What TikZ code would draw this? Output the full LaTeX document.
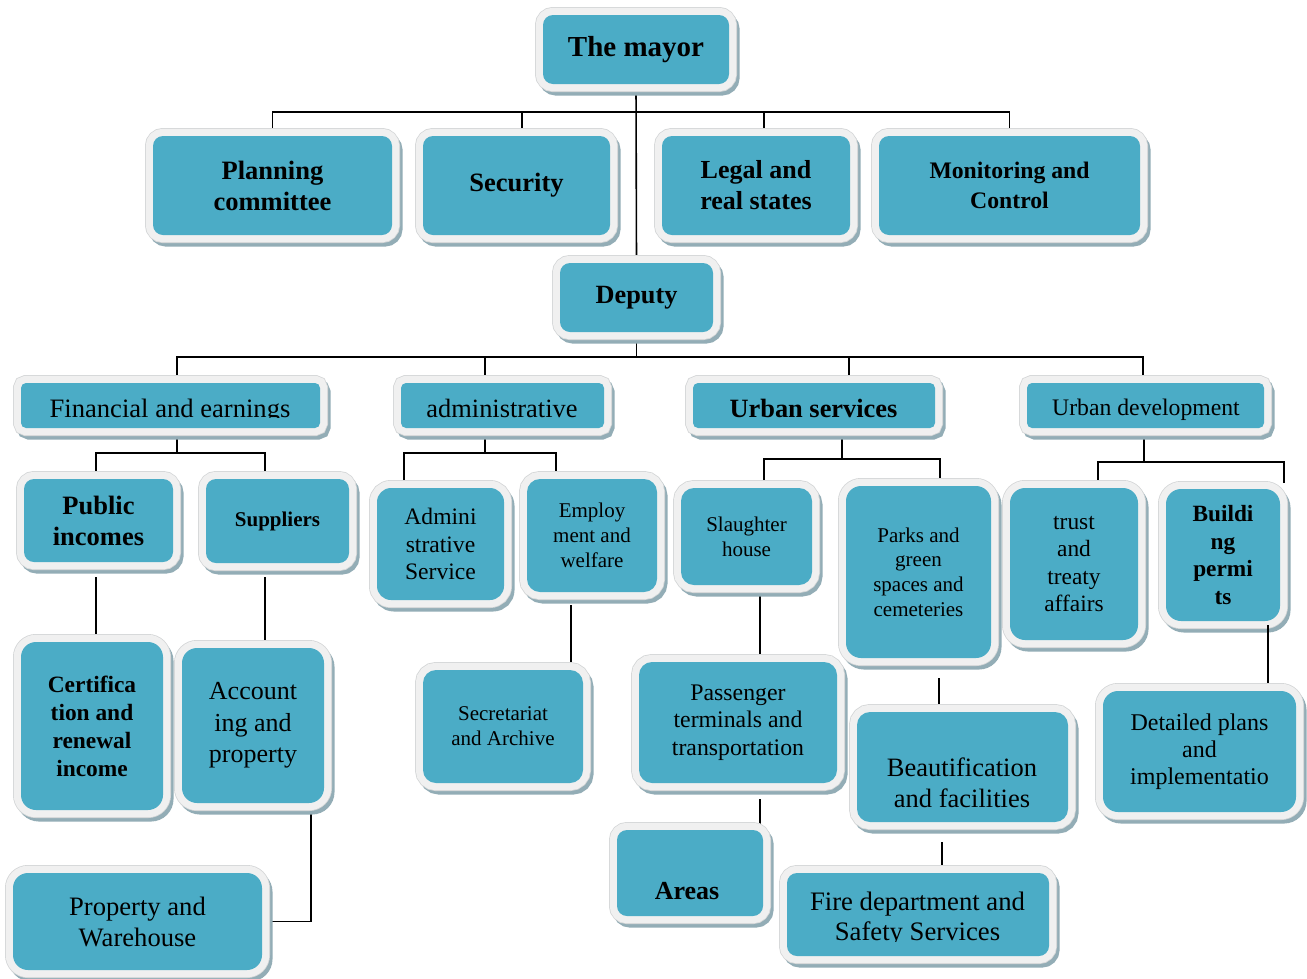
\documentclass[tikz,border=0pt]{standalone}
\usepackage{fontspec}
\setmainfont{Liberation Serif}
\usetikzlibrary{backgrounds}

\definecolor{boxfill}{HTML}{4BACC6}
\definecolor{boxframe}{HTML}{F0F0F0}
\definecolor{boxedge}{HTML}{D4D6D7}
\definecolor{boxshadow}{HTML}{93ADB6}

\newcommand\fsz[2]{\fontsize{#1}{#2}\selectfont}

\begin{document}
\begin{tikzpicture}[x=1pt,y=-1pt,
  unit/.style={rounded corners=#1, fill=boxfill, inner sep=0pt, outer sep=0pt,
    align=center, text=black,
    preaction={fill=boxshadow, draw=boxshadow, line width=15pt,
      transform canvas={shift={(3pt,-4pt)}}},
    preaction={draw=boxedge, line width=16pt},
    preaction={draw=boxframe, line width=14.4pt}},
  unit/.default=10pt,
  span/.style args={#1/#2/#3/#4}{at={({(#1+#3)/2},{(#2+#4)/2})},
    minimum width={(#3-#1)*1pt}, minimum height={(#4-#2)*1pt}},
  link/.style={draw=black, line width=1.6pt},
  txt/.style={inner sep=0pt, outer sep=0pt, align=center, text=black},
]
\useasboundingbox (0,0) rectangle (1307,978);

% ---------- top level ----------
\node[unit=10pt, span=543/15/729/84, font=\fsz{29}{34}\bfseries] (mayor) {The mayor};
\node[unit=10pt, span=153/136/392/235, font=\fsz{26.5}{31}\bfseries] (planning) {Planning\\committee};
\node[unit=10pt, span=423/136/610/235, font=\fsz{26.5}{31}\bfseries] (security) {Security};
\node[unit=10pt, span=662/136/850/235, font=\fsz{26}{31}\bfseries] (legal) {Legal and\\real states};
\node[unit=10pt, span=879/136/1140/235, font=\fsz{23.7}{30}\bfseries] (monitor) {Monitoring and\\Control};
\node[unit=10pt, span=560/263/713/332, font=\fsz{26.3}{31}\bfseries] (deputy) {Deputy};

% ---------- departments ----------
\node[unit=5pt, span=21/383/320/428] (fin) {};
\begin{scope}
  \clip (21,383) rectangle (320,417.5);
  \node[txt, font=\fsz{26.6}{31}, anchor=base] (fintext) at (170,417) {Financial and earnings};
\end{scope}
\node[unit=5pt, span=401/383/604/428] (adm) {};
\node[txt, font=\fsz{26.4}{31}, anchor=base] (admtext) at (502,417.5) {administrative};
\node[unit=5pt, span=693/383/935/428] (urbs) {};
\node[txt, font=\fsz{26.4}{31}\bfseries, anchor=base] (urbstext) at (813.5,417.5) {Urban services};
\node[unit=5pt, span=1027/383/1264/428] (urbd) {};
\node[txt, font=\fsz{23.7}{28}, anchor=base] (urbdtext) at (1146,415) {Urban development};

% ---------- financial branch ----------
\node[unit=10pt, span=24/479/173/562, font=\fsz{26.5}{31}\bfseries] (public) {Public\\incomes};
\node[unit=10pt, span=206/479/349/563, font=\fsz{21}{25}\bfseries] (supp) {Suppliers};
\node[unit=15pt, span=21/642/163/810, font=\fsz{23.4}{28}\bfseries] (cert) {Certifica\\tion and\\renewal\\income};
\node[unit=15pt, span=182/648/324/803, font=\fsz{26}{31.5}] (acct) {Account\\ing and\\property};
\node[unit=15pt, span=13/873/262/970, font=\fsz{26.6}{31}] (prop) {Property and\\Warehouse};

% ---------- administrative branch ----------
\node[unit=14pt, span=377/488/504/600, font=\fsz{23.6}{27.5}] (admserv) {Admini\\strative\\Service};
\node[unit=13pt, span=527/479/657/592, font=\fsz{21}{25}] (employ) {Employ\\ment and\\welfare};
\node[unit=13pt, span=423/670/583/783, font=\fsz{21}{25}] (secr) {Secretariat\\and Archive};

% ---------- urban services branch ----------
\node[unit=13pt, span=681/488/812/585, font=\fsz{21}{25}] (slaught) {Slaughter\\house};
\node[unit=15pt, span=846/486/991/658, font=\fsz{21}{24.7}] (parks) {Parks and\\green\\spaces and\\cemeteries};
\node[unit=13pt, span=639/662/837/783, font=\fsz{23.8}{27.5}] (pass) {Passenger\\terminals and\\transportation};
\node[unit=10pt, span=617/830/763/916] (areas) {};
\node[txt, font=\fsz{26}{31}\bfseries, anchor=base] (areastext) at (687,899) {Areas};
\node[unit=13pt, span=857/712/1068/822] (beaut) {};
\node[txt, font=\fsz{26.5}{31}] (beauttext) at (962,782.5) {Beautification\\and facilities};
\node[unit=10pt, span=787/873/1049/956] (fire) {};
\begin{scope}
  \clip (787,873) rectangle (1049,941);
  \node[txt, font=\fsz{26.7}{30}] (firetext) at (917.5,919) {Fire department and\\Safety Services};
\end{scope}

% ---------- urban development branch ----------
\node[unit=15pt, span=1010/488/1138/640, font=\fsz{23.4}{27.5}] (trust) {trust\\and\\treaty\\affairs};
\node[unit=15pt, span=1166/489/1280/621, font=\fsz{23.3}{27.7}\bfseries] (build) {Buildi\\ng\\permi\\ts};
\node[unit=15pt, span=1103/691/1296/812, font=\fsz{24}{27}] (detail) {Detailed plans\\and\\implementatio};

% ---------- connectors (behind the boxes) ----------
\begin{pgfonlayer}{background}
\fill[white] (0,0) rectangle (1307,978);
\coordinate (busA) at (0,112);
\coordinate (busB) at (0,357);
\coordinate (busC) at (0,453);
\coordinate (busD) at (0,453);
\coordinate (busE) at (0,459);
\coordinate (busF) at (0,462);

\draw[link] (mayor.south) -- (deputy.north);
\draw[link] (planning.north) -- (planning.north |- busA) -- (monitor.north |- busA) -- (monitor.north);
\draw[link] ([xshift=5.5pt]security.north) -- ([xshift=5.5pt]security.north |- busA);
\draw[link] ([xshift=8pt]legal.north) -- ([xshift=8pt]legal.north |- busA);

\draw[link] (deputy.south) -- (deputy.south |- busB);
\draw[link] ([xshift=6.5pt]fin.north) -- ([xshift=6.5pt]fin.north |- busB)
  -- ([xshift=-2.5pt]urbd.north |- busB) -- ([xshift=-2.5pt]urbd.north);
\draw[link] ([xshift=-17.5pt]adm.north) -- ([xshift=-17.5pt]adm.north |- busB);
\draw[link] ([xshift=35pt]urbs.north) -- ([xshift=35pt]urbs.north |- busB);

% financial
\draw[link] ([xshift=6.5pt]fin.south) -- ([xshift=6.5pt]fin.south |- busC);
\draw[link] ([xshift=-2.5pt]public.north) -- ([xshift=-2.5pt]public.north |- busC)
  -- ([xshift=-12.5pt]supp.north |- busC) -- ([xshift=-12.5pt]supp.north);
\draw[link, shorten <=15pt] ([xshift=-2.5pt]public.south) -- ([xshift=-2.5pt]public.south |- cert.north);
\draw[link, shorten <=14pt] ([xshift=-12.5pt]supp.south) -- ([xshift=-12.5pt]supp.south |- acct.north);
\draw[link] ([xshift=58pt]acct.south) -- ([xshift=58pt]acct.south |- prop.east) -- (prop.east);

% administrative
\draw[link] ([xshift=-17.5pt]adm.south) -- ([xshift=-17.5pt]adm.south |- busD);
\draw[link] ([xshift=-36.5pt]admserv.north) -- ([xshift=-36.5pt]admserv.north |- busD)
  -- ([xshift=-36pt]employ.north |- busD) -- ([xshift=-36pt]employ.north);
\draw[link, shorten <=13pt] ([xshift=-21pt]employ.south) -- ([xshift=-21pt]employ.south |- secr.north);

% urban services
\draw[link] ([xshift=28pt]urbs.south) -- ([xshift=28pt]urbs.south |- busE);
\draw[link] ([xshift=17.5pt]slaught.north) -- ([xshift=17.5pt]slaught.north |- busE)
  -- ([xshift=21.5pt]parks.north |- busE) -- ([xshift=21.5pt]parks.north);
\draw[link] ([xshift=13.5pt]slaught.south) -- ([xshift=13.5pt]slaught.south |- pass.north);
\draw[link, shorten <=16pt] ([xshift=22pt]pass.south) -- ([xshift=22pt]pass.south |- areas.north);
\draw[link, shorten <=20pt] ([xshift=20.5pt]parks.south) -- ([xshift=20.5pt]parks.south |- beaut.north);
\draw[link, shorten <=20pt] ([xshift=-20.5pt]beaut.south) -- ([xshift=-20.5pt]beaut.south |- fire.north);

% urban development
\draw[link] ([xshift=-1.5pt]urbd.south) -- ([xshift=-1.5pt]urbd.south |- busF);
\draw[link, shorten >=6pt] ([xshift=24pt]trust.north) -- ([xshift=24pt]trust.north |- busF)
  -- ([xshift=61pt]build.north |- busF) -- ([xshift=61pt]build.north);
\end{pgfonlayer}

\draw[link, shorten <=4pt, shorten >=8pt] ([xshift=45pt]build.south) -- ([xshift=45pt]build.south |- detail.north);
\end{tikzpicture}
\end{document}
